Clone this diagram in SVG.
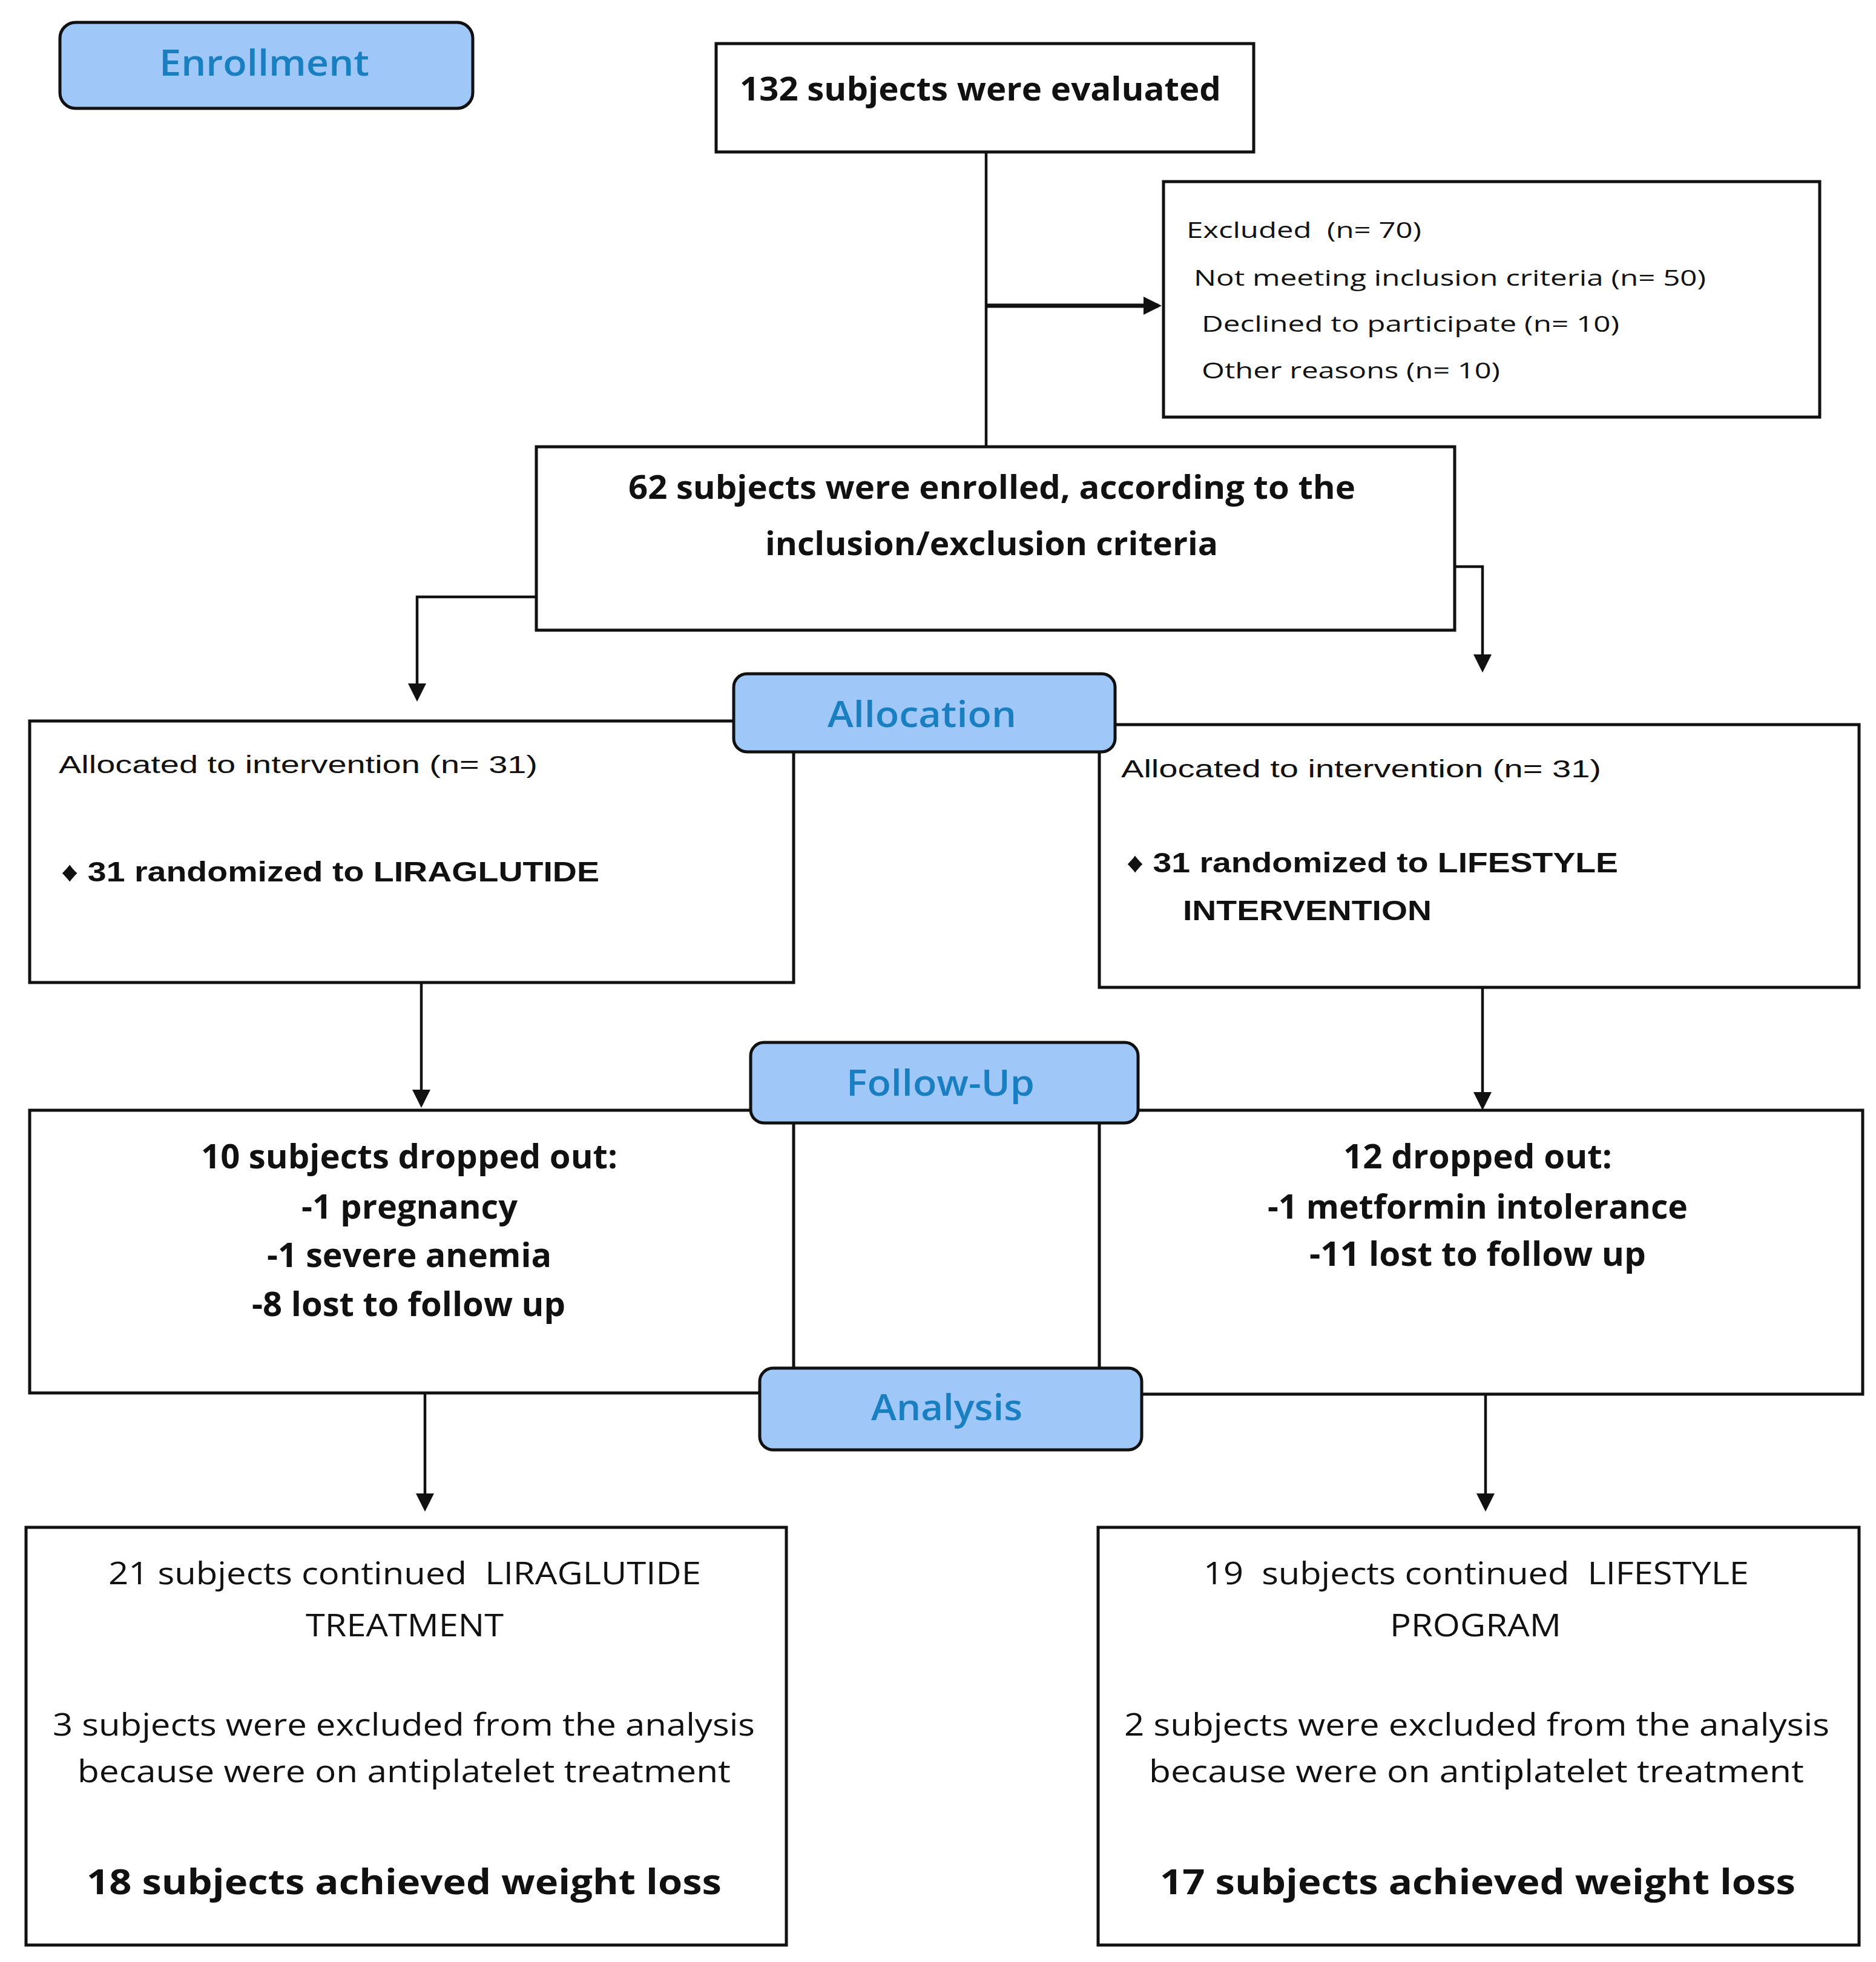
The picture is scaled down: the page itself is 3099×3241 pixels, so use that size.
<svg xmlns="http://www.w3.org/2000/svg" width="3099" height="3241" viewBox="0 0 3099 3241" xml:space="preserve">
<defs>
<style>
text{white-space:pre}
.box{fill:#fff;stroke:#111;stroke-width:5}
.tab{fill:#9fc7f7;stroke:#111;stroke-width:5}
.tabt{font-family:"Open Sans","Liberation Sans",sans-serif;font-weight:600;font-size:60px;fill:#1a7fc1}
.cb{font-family:"Open Sans","Liberation Sans",sans-serif;font-weight:700;fill:#111}
.cr{font-family:"Open Sans","Liberation Sans",sans-serif;font-weight:400;fill:#111}
.ar{font-family:"Liberation Sans",Arial,sans-serif;font-weight:400;font-size:40px;fill:#111}
.ab{font-family:"Liberation Sans",Arial,"DejaVu Sans",sans-serif;font-weight:700;font-size:46px;fill:#111}
.con{fill:none;stroke:#111;stroke-width:4.5}
</style>
<marker id="ah" viewBox="0 0 30 30" markerUnits="userSpaceOnUse" markerWidth="30" markerHeight="30" refX="24" refY="15" orient="auto">
<path d="M0,0 L30,15 L0,30 z" fill="#111"/>
</marker>
</defs>
<rect width="3099" height="3241" fill="#fff"/>
<g id="connectors">
<path class="con" d="M1629,230 V738"/>
<path class="con" d="M1629,505 H1913" style="stroke-width:7" marker-end="url(#ah)"/>
<path class="con" d="M886,986 H689 V1153" marker-end="url(#ah)"/>
<path class="con" d="M2403,936 H2449 V1105" marker-end="url(#ah)"/>
<path class="con" d="M696,1623 V1824" marker-end="url(#ah)"/>
<path class="con" d="M2449,1631 V1828" marker-end="url(#ah)"/>
<path class="con" d="M702,2301 V2491" marker-end="url(#ah)"/>
<path class="con" d="M2454,2303 V2491" marker-end="url(#ah)"/>
</g>
<g id="enrollment-tab">
<rect class="tab" x="99" y="37" width="682" height="142" rx="26"/>
<text class="tabt" x="263" y="125" textLength="347" lengthAdjust="spacingAndGlyphs">Enrollment</text>
</g>
<g id="evaluated">
<rect class="box" x="1183" y="72" width="888" height="179"/>
<text class="cb" font-size="53" x="1222" y="166" textLength="795" lengthAdjust="spacingAndGlyphs">132 subjects were evaluated</text>
</g>
<g id="excluded">
<rect class="box" x="1922" y="300" width="1084" height="389"/>
<text class="cr" font-size="36" x="1960" y="393" textLength="388" lengthAdjust="spacingAndGlyphs">Excluded  (n= 70)</text>
<text class="cr" font-size="36" x="1972" y="472" textLength="846" lengthAdjust="spacingAndGlyphs">Not meeting inclusion criteria (n= 50)</text>
<text class="cr" font-size="36" x="1985" y="548" textLength="690" lengthAdjust="spacingAndGlyphs">Declined to participate (n= 10)</text>
<text class="cr" font-size="36" x="1985" y="625" textLength="493" lengthAdjust="spacingAndGlyphs">Other reasons (n= 10)</text>
</g>
<g id="enrolled">
<rect class="box" x="886" y="738" width="1517" height="303"/>
<text class="cb" font-size="53" x="1038" y="824" textLength="1201" lengthAdjust="spacingAndGlyphs">62 subjects were enrolled, according to the</text>
<text class="cb" font-size="53" x="1264" y="917" textLength="748" lengthAdjust="spacingAndGlyphs">inclusion/exclusion criteria</text>
</g>
<g id="alloc-left">
<rect class="box" x="49" y="1191" width="1262" height="432"/>
<text class="ar" x="97" y="1277" textLength="791" lengthAdjust="spacingAndGlyphs">Allocated to intervention (n= 31)</text>
<text class="ab" x="101" y="1456" textLength="889" lengthAdjust="spacingAndGlyphs">♦ 31 randomized to LIRAGLUTIDE</text>
</g>
<g id="alloc-right">
<rect class="box" x="1816" y="1197" width="1255" height="434"/>
<text class="ar" x="1852" y="1284" textLength="793" lengthAdjust="spacingAndGlyphs">Allocated to intervention (n= 31)</text>
<text class="ab" x="1861" y="1441" textLength="812" lengthAdjust="spacingAndGlyphs">♦ 31 randomized to LIFESTYLE</text>
<text class="ab" x="1954" y="1520" textLength="411" lengthAdjust="spacingAndGlyphs">INTERVENTION</text>
</g>
<g id="allocation-tab">
<rect class="tab" x="1212" y="1113" width="630" height="129" rx="22"/>
<text class="tabt" x="1367" y="1201" textLength="312" lengthAdjust="spacingAndGlyphs">Allocation</text>
</g>
<g id="followup-left">
<rect class="box" x="49" y="1834" width="1262" height="467"/>
<text class="cb" font-size="55" x="332" y="1930" textLength="688" lengthAdjust="spacingAndGlyphs">10 subjects dropped out:</text>
<text class="cb" font-size="55" x="498" y="2013" textLength="357" lengthAdjust="spacingAndGlyphs">-1 pregnancy</text>
<text class="cb" font-size="55" x="441" y="2093" textLength="470" lengthAdjust="spacingAndGlyphs">-1 severe anemia</text>
<text class="cb" font-size="55" x="416" y="2174" textLength="518" lengthAdjust="spacingAndGlyphs">-8 lost to follow up</text>
</g>
<g id="followup-right">
<rect class="box" x="1816" y="1834" width="1261" height="469"/>
<text class="cb" font-size="55" x="2219" y="1930" textLength="444" lengthAdjust="spacingAndGlyphs">12 dropped out:</text>
<text class="cb" font-size="55" x="2094" y="2013" textLength="694" lengthAdjust="spacingAndGlyphs">-1 metformin intolerance</text>
<text class="cb" font-size="55" x="2163" y="2091" textLength="556" lengthAdjust="spacingAndGlyphs">-11 lost to follow up</text>
</g>
<g id="followup-tab">
<rect class="tab" x="1240" y="1722" width="640" height="133" rx="22"/>
<text class="tabt" x="1398" y="1810" textLength="311" lengthAdjust="spacingAndGlyphs">Follow-Up</text>
</g>
<g id="analysis-tab">
<rect class="tab" x="1255" y="2260" width="631" height="135" rx="22"/>
<text class="tabt" x="1439" y="2346" textLength="250" lengthAdjust="spacingAndGlyphs">Analysis</text>
</g>
<g id="result-left">
<rect class="box" x="43" y="2523" width="1256" height="690"/>
<text class="cr" font-size="52" x="179" y="2617" textLength="979" lengthAdjust="spacingAndGlyphs">21 subjects continued  LIRAGLUTIDE</text>
<text class="cr" font-size="52" x="505" y="2703" textLength="327" lengthAdjust="spacingAndGlyphs">TREATMENT</text>
<text class="cr" font-size="52" x="87" y="2867" textLength="1160" lengthAdjust="spacingAndGlyphs">3 subjects were excluded from the analysis</text>
<text class="cr" font-size="52" x="128" y="2944" textLength="1079" lengthAdjust="spacingAndGlyphs">because were on antiplatelet treatment</text>
<text class="cb" font-size="57" x="143" y="3129" textLength="1049" lengthAdjust="spacingAndGlyphs">18 subjects achieved weight loss</text>
</g>
<g id="result-right">
<rect class="box" x="1814" y="2523" width="1257" height="690"/>
<text class="cr" font-size="52" x="1988" y="2617" textLength="901" lengthAdjust="spacingAndGlyphs">19  subjects continued  LIFESTYLE</text>
<text class="cr" font-size="52" x="2296" y="2703" textLength="283" lengthAdjust="spacingAndGlyphs">PROGRAM</text>
<text class="cr" font-size="52" x="1857" y="2867" textLength="1165" lengthAdjust="spacingAndGlyphs">2 subjects were excluded from the analysis</text>
<text class="cr" font-size="52" x="1898" y="2944" textLength="1082" lengthAdjust="spacingAndGlyphs">because were on antiplatelet treatment</text>
<text class="cb" font-size="57" x="1916" y="3129" textLength="1050" lengthAdjust="spacingAndGlyphs">17 subjects achieved weight loss</text>
</g>
</svg>
